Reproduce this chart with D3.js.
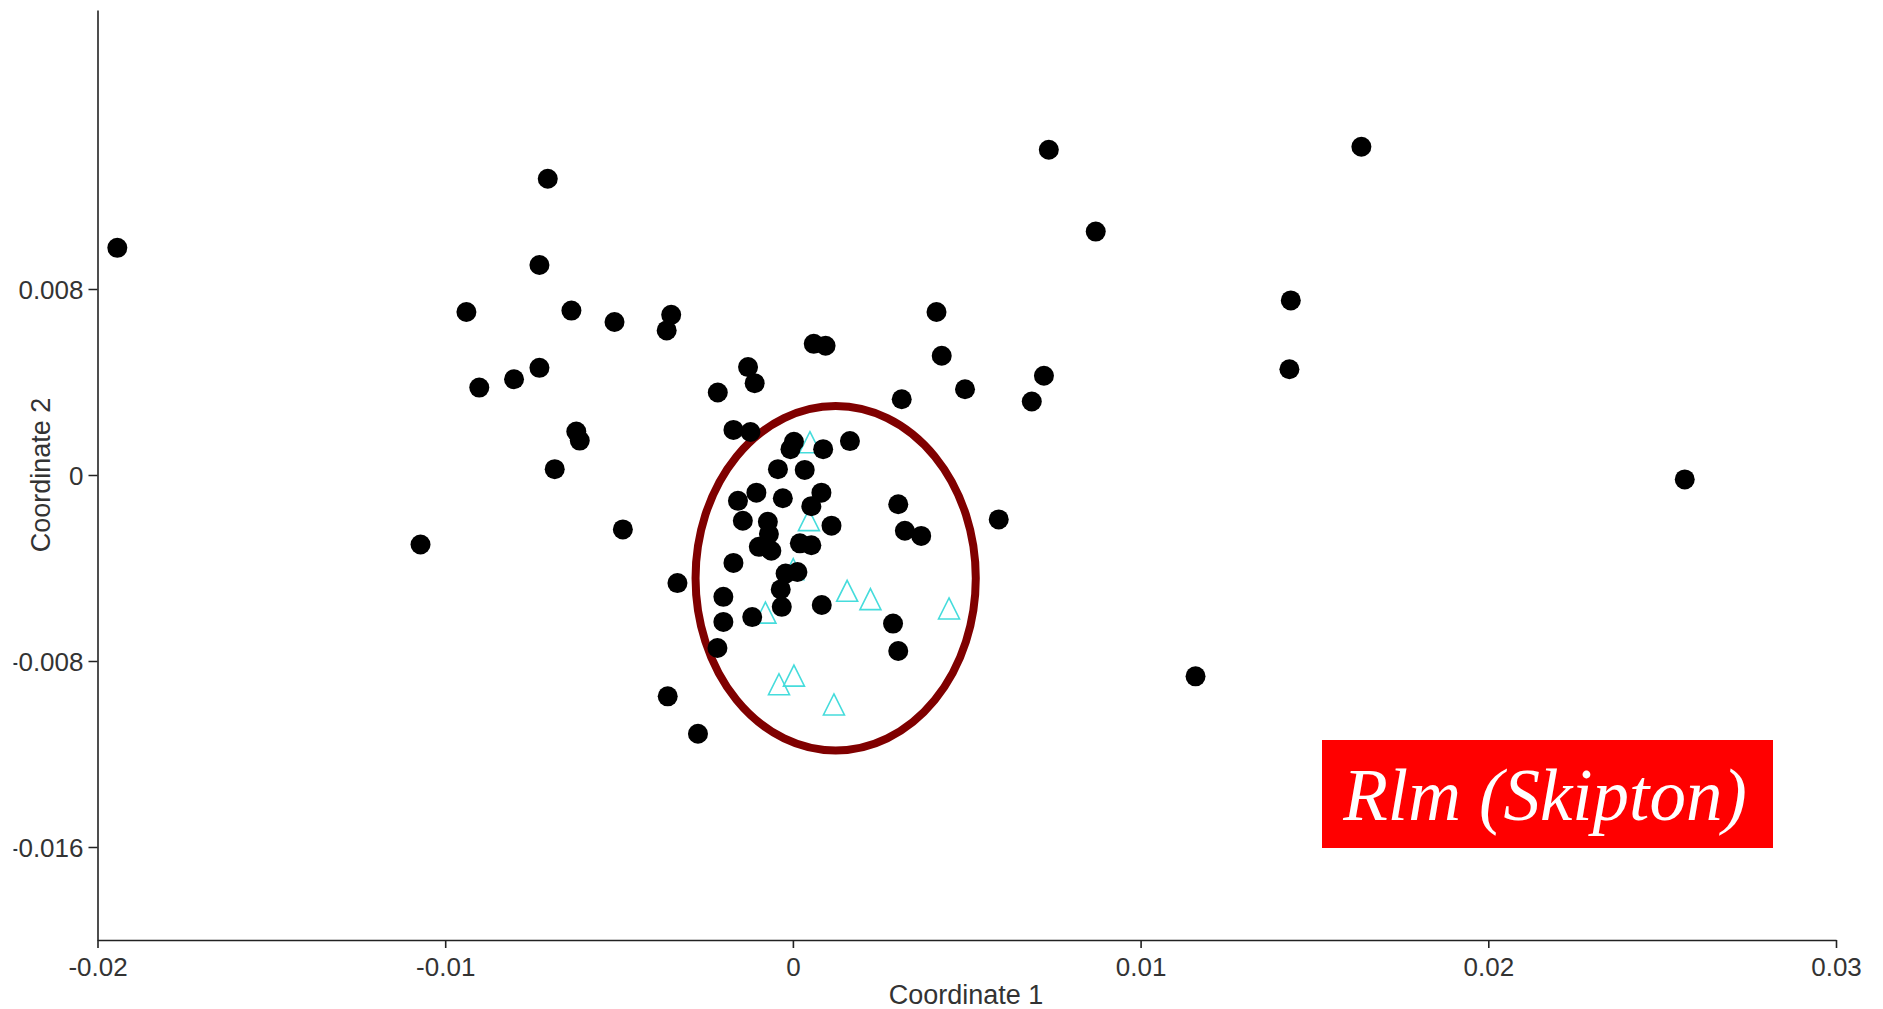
<!DOCTYPE html>
<html lang="en">
<head>
    <meta charset="UTF-8">
    <script src="https://d3js.org/d3.v7.min.js"></script>
    <title>PCoA Rlm (Skipton)</title>
    <style>
        body { margin: 0; background: #fff; }
    </style>
</head>
<body>
    <svg id="svg1" width="1883" height="1009"></svg>

    <script>
        // samples, [coordinate 1, coordinate 2]
        const otherSamples = [
            [-0.01943, 0.00977], [-0.00705, 0.01274], [-0.00729, 0.00903], [-0.00939, 0.00701],
            [-0.00637, 0.00707], [-0.00729, 0.00461], [-0.00802, 0.00412], [-0.00902, 0.00376],
            [-0.00623, 0.00187], [-0.00613, 0.00148], [-0.00685, 0.00025], [-0.01071, -0.00299],
            [-0.00513, 0.00658], [-0.00350, 0.00689], [-0.00363, 0.00622], [-0.00489, -0.00234],
            [-0.00332, -0.00465], [-0.00360, -0.00952], [-0.00273, -0.01113], [0.00736, 0.01399],
            [0.01635, 0.01412], [0.00871, 0.01047], [0.01432, 0.00751], [0.01428, 0.00455],
            [0.02565, -0.00019], [0.01158, -0.00866], [0.00413, 0.00701], [0.00428, 0.00513],
            [0.00722, 0.00427], [0.00495, 0.00369], [0.00687, 0.00316], [0.00313, 0.00326],
            [0.00060, 0.00564], [0.00094, 0.00556], [-0.00129, 0.00464], [-0.00110, 0.00395],
            [-0.00216, 0.00355], [0.00592, -0.00191], [-0.00171, 0.00194], [-0.00122, 0.00185],
            [0.00003, 0.00143], [-0.00007, 0.00111], [0.00087, 0.00111], [0.00164, 0.00146],
            [-0.00043, 0.00025], [0.00034, 0.00022], [-0.00158, -0.00111], [-0.00105, -0.00076],
            [-0.00029, -0.00100], [0.00082, -0.00076], [0.00053, -0.00134], [0.00303, -0.00126],
            [-0.00144, -0.00197], [0.00111, -0.00218], [-0.00072, -0.00201], [-0.00069, -0.00254],
            [-0.00098, -0.00309], [-0.00062, -0.00326], [0.00020, -0.00294], [0.00053, -0.00302],
            [-0.00171, -0.00378], [0.00322, -0.00240], [0.00369, -0.00262], [-0.00021, -0.00424],
            [0.00013, -0.00417], [-0.00035, -0.00492], [-0.00032, -0.00567], [-0.00200, -0.00524],
            [0.00083, -0.00559], [-0.00117, -0.00611], [-0.00200, -0.00632], [0.00288, -0.00639],
            [0.00303, -0.00757], [-0.00217, -0.00744]
        ];

        const skiptonSamples = [
            [0.00049, 0.00141], [0.00046, -0.00194], [0.00001, -0.00405], [0.00156, -0.00498],
            [0.00223, -0.00534], [0.00449, -0.00574], [-0.00079, -0.00592], [-0.00040, -0.00900],
            [0.00003, -0.00863], [0.00118, -0.00987]
        ];

        // ellipse round the Skipton group: centre and radii in data units
        const groupCentre = [0.00123, -0.00444];
        const groupRadius = [0.00403, 0.00741];

        const xTicks = [-0.02, -0.01, 0, 0.01, 0.02, 0.03];
        const yTicks = [0.008, 0, -0.008, -0.016];
        const labelText = "Rlm (Skipton)";

        const svg1 = d3.select("svg#svg1");
        const axisFont = "'Liberation Sans', Arial, sans-serif";

        const xScale = d3.scaleLinear().domain([-0.02, 0.03]).range([97.5, 1836]);
        const yScale = d3.scaleLinear().domain([-0.02, 0.02]).range([940, 10]);

        // X axis
        const bottomAxis = d3.axisBottom(xScale)
            .tickValues(xTicks)
            .tickSize(8)
            .tickSizeOuter(0)
            .tickPadding(10)
            .tickFormat(d => String(d));

        const xg = svg1.append("g")
            .attr("transform", `translate(0,${yScale(-0.02)})`)
            .call(bottomAxis);

        // Y axis
        const leftAxis = d3.axisLeft(yScale)
            .tickValues(yTicks)
            .tickSize(9)
            .tickSizeOuter(0)
            .tickPadding(5)
            .tickFormat(d => String(d));

        const yg = svg1.append("g")
            .attr("transform", `translate(${xScale(-0.02)},0)`)
            .call(leftAxis);

        // the original picture is cut just left of the y labels, so the minus shows as a dot
        svg1.append("defs").append("clipPath").attr("id", "yclip")
            .append("rect")
            .attr("x", 13.5 - xScale(-0.02))
            .attr("y", 0)
            .attr("width", 200)
            .attr("height", 1009);
        yg.attr("clip-path", "url(#yclip)");

        [xg, yg].forEach(g => {
            g.select(".domain").attr("stroke", "#222").attr("stroke-width", 1.6);
            g.selectAll(".tick line").attr("stroke", "#222").attr("stroke-width", 1.6);
            g.selectAll(".tick text")
                .attr("fill", "#333")
                .style("font-family", axisFont)
                .style("font-size", "26px");
        });
        yg.selectAll(".tick text").attr("dy", "0.35em");

        // axis titles
        svg1.append("text")
            .attr("x", 966)
            .attr("y", 1004)
            .attr("text-anchor", "middle")
            .attr("fill", "#333")
            .style("font-family", axisFont)
            .style("font-size", "27px")
            .text("Coordinate 1");

        svg1.append("text")
            .attr("transform", `translate(50,${yScale(0)}) rotate(-90)`)
            .attr("text-anchor", "middle")
            .attr("fill", "#333")
            .style("font-family", axisFont)
            .style("font-size", "27px")
            .text("Coordinate 2");

        const chartArea = svg1.append("g").attr("id", "points");

        // group ellipse
        chartArea.append("ellipse")
            .attr("cx", xScale(groupCentre[0]))
            .attr("cy", yScale(groupCentre[1]))
            .attr("rx", xScale(groupRadius[0]) - xScale(0))
            .attr("ry", yScale(0) - yScale(groupRadius[1]))
            .attr("fill", "none")
            .attr("stroke", "#800000")
            .attr("stroke-width", 8);

        // open triangles
        chartArea.selectAll("path.tri")
            .data(skiptonSamples)
            .join("path")
            .attr("class", "tri")
            .attr("transform", d => `translate(${xScale(d[0])},${yScale(d[1])})`)
            .attr("d", "M0,-10.5L10.5,10.5L-10.5,10.5Z")
            .attr("fill", "none")
            .attr("stroke", "#45dcdc")
            .attr("stroke-width", 1.6);

        // black dots
        chartArea.selectAll("circle.dot")
            .data(otherSamples)
            .join("circle")
            .attr("class", "dot")
            .attr("cx", d => xScale(d[0]))
            .attr("cy", d => yScale(d[1]))
            .attr("r", 10)
            .attr("fill", "#000");

        // red label box
        const label = svg1.append("g");
        label.append("rect")
            .attr("x", 1322)
            .attr("y", 740)
            .attr("width", 451)
            .attr("height", 108)
            .attr("fill", "#ff0000");
        label.append("text")
            .attr("x", 1545)
            .attr("y", 820)
            .attr("text-anchor", "middle")
            .attr("fill", "#fff")
            .style("font-family", "'Liberation Serif', 'Times New Roman', serif")
            .style("font-style", "italic")
            .style("font-size", "73px")
            .text(labelText);
    </script>
</body>
</html>
